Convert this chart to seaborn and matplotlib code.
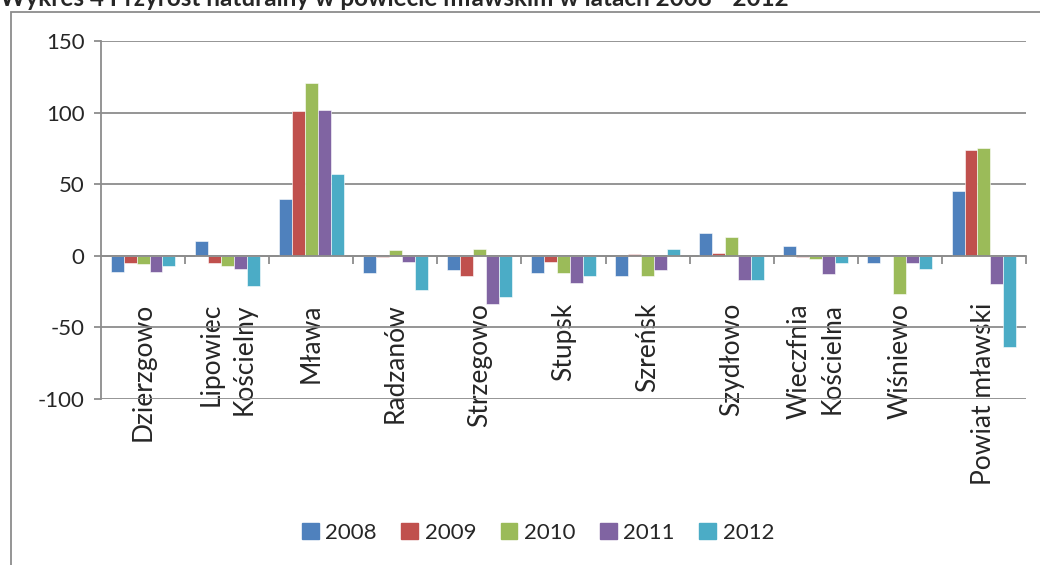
import pandas as pd
import matplotlib.pyplot as plt
import seaborn as sns
from matplotlib.patches import Rectangle
from matplotlib.ticker import FixedLocator

# Przyrost naturalny - gminy powiatu mławskiego, 2008-2012
gminy = ['Dzierzgowo', 'Lipowiec\nKościelny', 'Mława', 'Radzanów', 'Strzegowo',
         'Stupsk', 'Szreńsk', 'Szydłowo', 'Wieczfnia\nKościelna', 'Wiśniewo',
         'Powiat mławski']
lata = ['2008', '2009', '2010', '2011', '2012']
v2008 = [-11, 10, 40, -12, -10, -12, -14, 16, 7, -5, 45]
v2009 = [-5, -5, 101, -1, -14, -4, 1, 2, -1, 0, 74]
v2010 = [-6, -7, 121, 4, 5, -12, -14, 13, -2, -27, 75]
v2011 = [-11, -9, 102, -4, -34, -19, -10, -17, -13, -5, -20]
v2012 = [-7, -21, 57, -24, -29, -14, 5, -17, -5, -9, -64]
kolory = ['#4F81BD', '#C0504D', '#9BBB59', '#8064A2', '#4BACC6']

df = pd.DataFrame({'Gmina': gminy * 5,
                   'Rok': [r for r in lata for _ in gminy],
                   'Przyrost': v2008 + v2009 + v2010 + v2011 + v2012})

sns.set_style('white')
plt.rcParams['font.family'] = ['Lato', 'DejaVu Sans']
plt.rcParams['axes.unicode_minus'] = False

fig = plt.figure(figsize=(10.4, 5.65), dpi=100)
ax = fig.add_axes([101 / 1040, 1 - 399 / 565, 925 / 1040, 358 / 565])

sns.barplot(data=df, x='Gmina', y='Przyrost', hue='Rok', palette=kolory,
            width=0.77, gap=0, saturation=1, edgecolor='white', linewidth=0.4,
            ax=ax, legend=True, zorder=3)

grid_col = '#8c8c8c'
ax.set_ylim(-100, 150)
ax.set_xlim(-0.5, len(gminy) - 0.5)
ax.set_yticks([-100, -50, 0, 50, 100, 150])
ax.yaxis.grid(True, color=grid_col, linewidth=1.3, zorder=0)
ax.set_axisbelow(True)
ax.set_xlabel('')
ax.set_ylabel('')

for s in ['top', 'right']:
    ax.spines[s].set_visible(False)
ax.spines['left'].set_color(grid_col)
ax.spines['left'].set_linewidth(1.3)
ax.spines['bottom'].set_position(('data', 0))
ax.spines['bottom'].set_color(grid_col)
ax.spines['bottom'].set_linewidth(1.3)
ax.spines['bottom'].set_zorder(4)

ax.tick_params(axis='y', which='major', left=True, length=5, width=1.3,
               color=grid_col, labelsize=16, pad=7)
ax.tick_params(axis='x', which='major', bottom=True, length=0, pad=34,
               labelsize=19)
ax.xaxis.set_minor_locator(FixedLocator([i - 0.5 for i in range(1, len(gminy) + 1)]))
ax.tick_params(axis='x', which='minor', bottom=True, length=6, width=1.3,
               color=grid_col, direction='out')
for lab in ax.get_xticklabels():
    lab.set_rotation(90)
    lab.set_va('top')
    lab.set_ha('center')
    lab.set_multialignment('right')
    lab.set_linespacing(1.4)

ax.get_legend().remove()
handles = [Rectangle((0, 0), 1, 1, color=c) for c in kolory]
fig.legend(handles, lata, loc='center', bbox_to_anchor=(538 / 1040, 1 - 533 / 565),
           ncol=5, frameon=False, fontsize=16, handlelength=0.75,
           handleheight=0.75, handletextpad=0.3, columnspacing=1.1)

# ramka wykresu
fig.patches.append(Rectangle((11 / 1040, -0.1), 1.2, 1.1 - 12 / 565,
                             transform=fig.transFigure, fill=False,
                             edgecolor='#8c8c8c', linewidth=1.3))

fig.text(0.0, 1 - 6 / 565, 'Wykres 4 Przyrost naturalny w powiecie mławskim w latach 2008 - 2012',
         fontsize=17.5, fontweight='bold', va='baseline', ha='left')

fig.savefig('out.png', dpi=100)
